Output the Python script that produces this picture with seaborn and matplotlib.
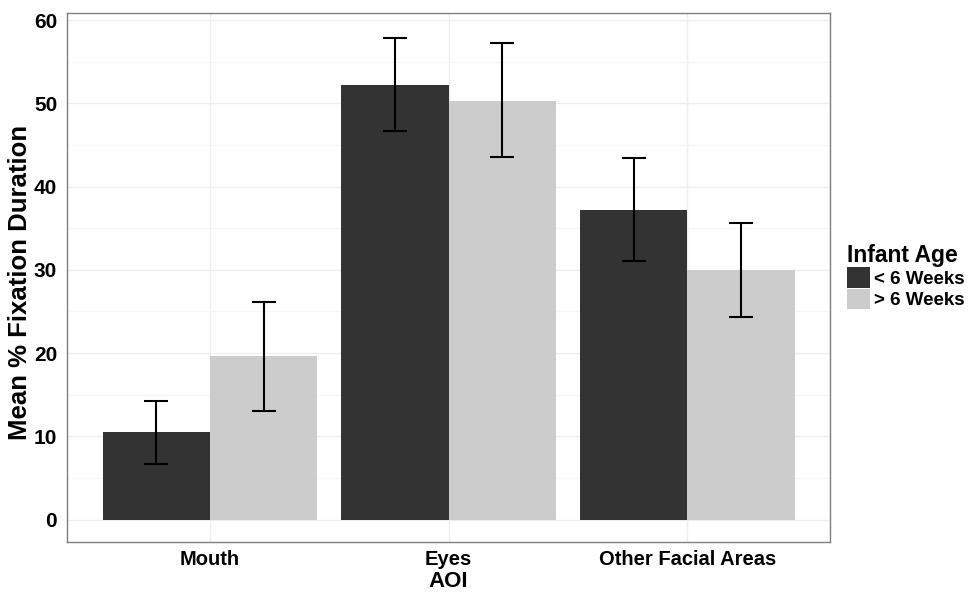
import matplotlib
matplotlib.use("Agg")
import matplotlib.pyplot as plt
import seaborn as sns
import pandas as pd
from matplotlib.patches import Patch
from matplotlib.ticker import MultipleLocator

aoi = ["Mouth", "Eyes", "Other Facial Areas"]
groups = ["< 6 Weeks", "> 6 Weeks"]
mean_lt6 = [10.5, 52.2, 37.2]
mean_gt6 = [19.6, 50.3, 30.0]
lo_lt6 = [6.7, 46.7, 31.1]
hi_lt6 = [14.3, 57.9, 43.4]
lo_gt6 = [13.1, 43.5, 24.3]
hi_gt6 = [26.1, 57.3, 35.6]
colors = ["#333333", "#CCCCCC"]

df = pd.DataFrame({
    "AOI": aoi * 2,
    "Infant Age": [groups[0]] * 3 + [groups[1]] * 3,
    "mean": mean_lt6 + mean_gt6,
    "lo": lo_lt6 + lo_gt6,
    "hi": hi_lt6 + hi_gt6,
})

sns.set_theme(style="white")
plt.rcParams['font.family'] = ['Liberation Sans', 'DejaVu Sans']
plt.rcParams['text.color'] = 'black'
plt.rcParams['axes.labelcolor'] = 'black'

fig = plt.figure(figsize=(9.7, 5.94), dpi=100)
ax = fig.add_axes([0.069, 0.0875, 0.787, 0.8905])

sns.barplot(data=df, x="AOI", y="mean", hue="Infant Age", order=aoi,
            hue_order=groups, palette=colors, width=0.9, errorbar=None,
            saturation=1, ax=ax, legend=False, zorder=2, linewidth=0,
            edgecolor="none")

# error bars at the bar centers
for bar_container, g in zip(ax.containers, groups):
    sub = df[df["Infant Age"] == g].set_index("AOI").loc[aoi]
    xs = [p.get_x() + p.get_width() / 2 for p in bar_container.patches]
    ys = sub["mean"].values
    yerr = [ys - sub["lo"].values, sub["hi"].values - ys]
    ax.errorbar(xs, ys, yerr=yerr, fmt="none", ecolor="black",
                elinewidth=1.5, capsize=8.5, capthick=1.5, zorder=3)

ax.set_xlim(-0.6, 2.6)
ax.set_ylim(-2.7, 60.85)
ax.yaxis.set_major_locator(MultipleLocator(10))
ax.yaxis.set_minor_locator(MultipleLocator(5))
ax.grid(True, which="major", color="#EEEEEE", linewidth=1.0, zorder=0)
ax.grid(True, which="minor", axis="y", color="#F6F6F6", linewidth=0.8, zorder=0)
ax.set_axisbelow(True)
for s in ax.spines.values():
    s.set_color("#7F7F7F")
    s.set_linewidth(1.0)
    s.set_visible(True)

ax.tick_params(axis="both", which="major", direction="out", length=4,
               color="#7F7F7F", width=1, labelsize=15, labelcolor="black",
               pad=3)
ax.tick_params(axis="x", which="major", labelsize=14.5, pad=2)
ax.tick_params(axis="both", which="minor", length=0)
for lab in ax.get_xticklabels() + ax.get_yticklabels():
    lab.set_fontweight("bold")

ax.set_xlabel("AOI", fontsize=16, fontweight="bold", color="black")
ax.set_ylabel("Mean % Fixation Duration", fontsize=18.5, fontweight="bold",
              color="black")
ax.xaxis.set_label_coords(0.5, -0.0545)
ax.yaxis.set_label_coords(-0.046, 0.49)

handles = [Patch(facecolor=c, edgecolor="none") for c in colors]
leg = fig.legend(handles, groups, title="Infant Age", loc="upper left",
                 bbox_to_anchor=(0.873, 0.590), frameon=False,
                 prop={"weight": "bold", "size": 13.5}, handlelength=1.25,
                 handleheight=1.3, handletextpad=0.2, labelspacing=0.05,
                 borderpad=0.0, borderaxespad=0.0)
leg.get_title().set_fontweight("bold")
leg.get_title().set_fontsize(16.5)
leg.get_title().set_color("black")
for t in leg.get_texts():
    t.set_color("black")
leg._legend_box.align = "left"

fig.savefig("out.png", dpi=100)
